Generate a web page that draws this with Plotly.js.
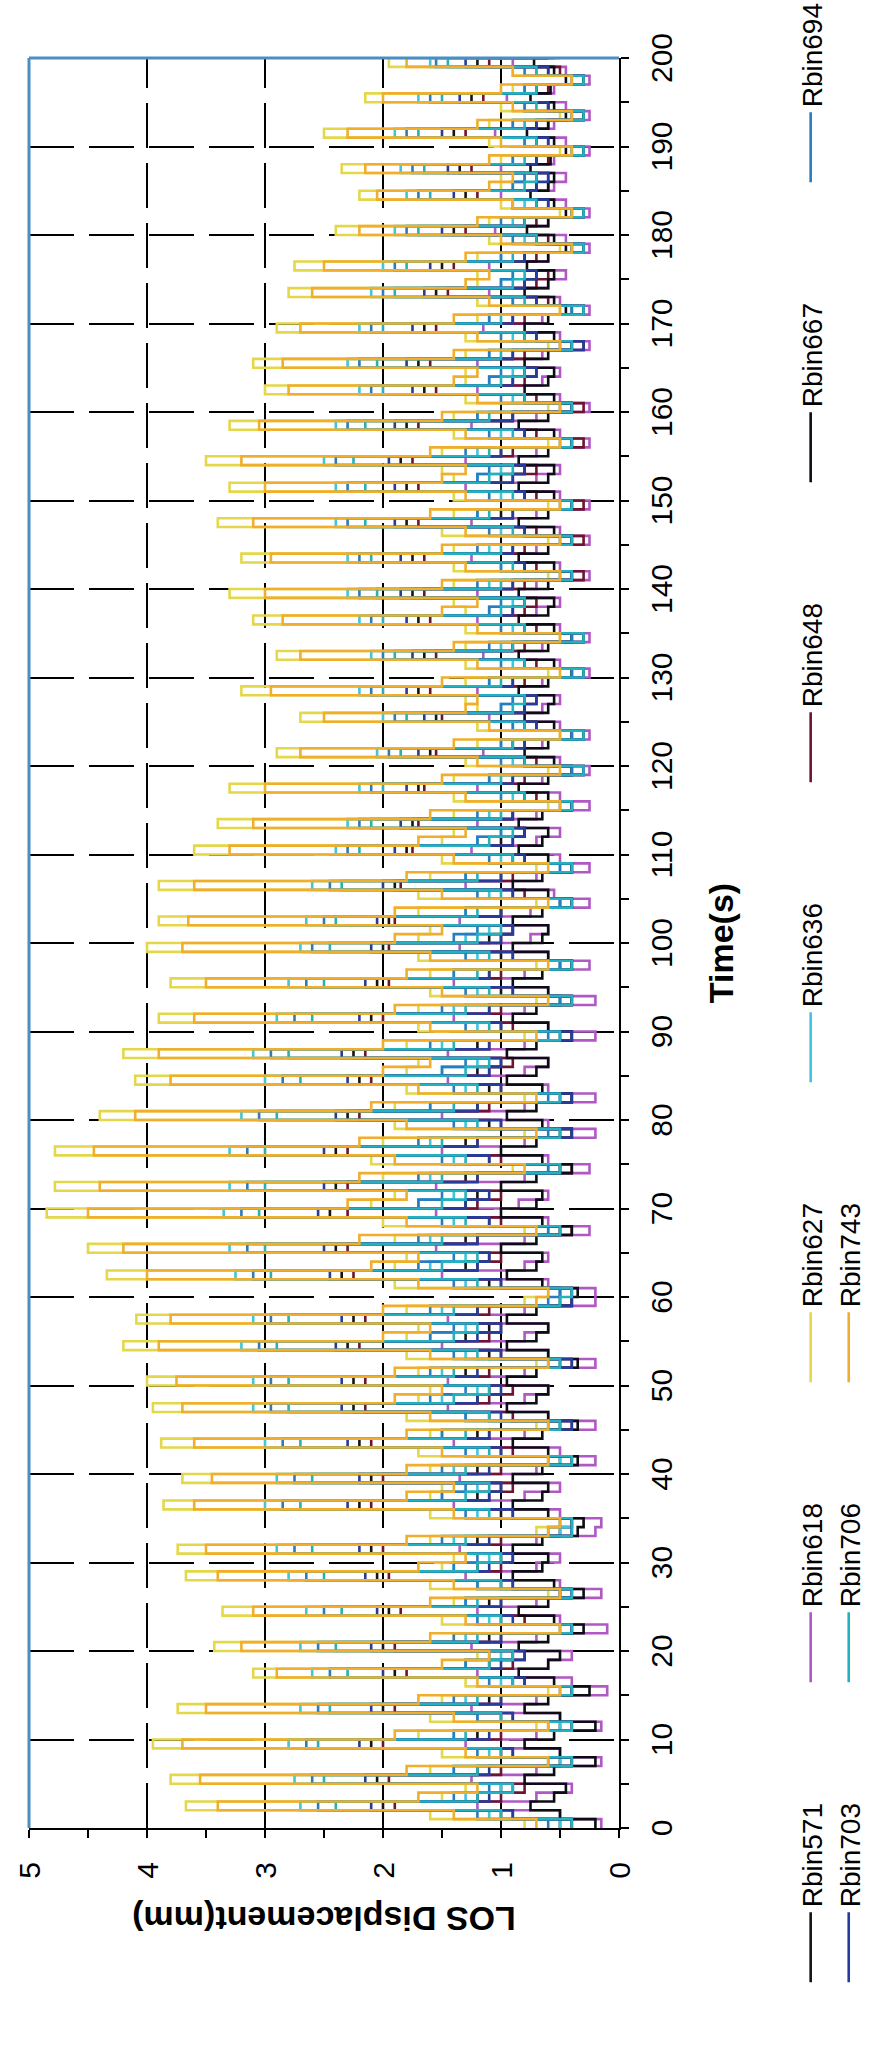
<!DOCTYPE html>
<html>
<head>
<meta charset="utf-8">
<script src="https://cdn.plot.ly/plotly-3.0.1.min.js"></script>
<style>
html,body{margin:0;padding:0;width:871px;height:2046px;overflow:hidden;background:#fff;}
#chart{position:absolute;left:0;top:0;width:2046px;height:900px;transform-origin:0 0;transform:translateY(2046px) rotate(-90deg);}
</style>
</head>
<body>
<div id="chart"></div>
<script>
// Time axis: samples every 1 s from 0 to 200 s (x0 = 0, dx = 1)
var seriesNames = ["Rbin571","Rbin618","Rbin627","Rbin636","Rbin648","Rbin667","Rbin694","Rbin703","Rbin706","Rbin743"];
var legendGroups = ["legend","legend","legend","legend","legend3","legend3","legend4","legend2","legend2","legend2"];

var rbin571 = [0.5,1.0,2.0,1.2,1.0,2.05,1.2,0.5,1.0,2.1,
1.2,0.5,1.0,2.0,1.1,0.4,0.9,1.9,1.1,0.9,
2.0,1.1,0.4,1.0,1.95,1.1,0.5,1.0,2.05,1.2,
1.0,2.1,1.2,0.5,0.4,1.0,2.2,1.2,1.0,2.1,
1.2,0.5,1.0,2.2,1.2,0.5,1.1,2.25,1.2,1.1,
2.25,1.3,0.5,1.1,2.3,1.3,1.1,2.25,1.2,0.5,
0.5,1.1,2.35,1.3,1.1,2.4,1.3,0.5,1.1,2.45,
1.3,1.2,2.4,1.3,0.5,1.1,2.4,1.3,0.5,1.1,
2.3,1.2,0.5,1.1,2.2,1.2,1.0,2.25,1.2,0.5,
1.0,2.1,1.1,0.5,1.0,2.05,1.1,0.5,1.0,2.0,
1.1,0.9,1.95,1.0,0.5,0.9,1.9,1.0,0.4,0.9,
1.8,1.0,0.8,1.75,0.9,0.4,0.8,1.7,0.9,0.4,
0.8,1.6,0.9,0.4,0.8,1.55,0.8,0.8,1.7,0.9,
0.4,0.8,1.65,0.9,0.4,0.8,1.7,0.9,0.8,1.75,
0.9,0.4,0.8,1.75,0.9,0.4,0.8,1.8,1.0,0.4,
0.8,1.8,1.0,0.8,1.85,1.0,0.4,0.8,1.8,0.9,
0.4,0.8,1.65,0.9,0.8,1.7,0.9,0.4,0.8,1.65,
0.9,0.4,0.7,1.55,0.8,0.7,1.5,0.8,0.4,0.7,
1.4,0.8,0.4,0.7,1.3,0.7,0.7,1.35,0.7,0.3,
0.7,1.4,0.7,0.3,0.6,1.25,0.7,0.3,0.6,1.2,
0.6];

var rbin618 = [0.15,0.5,1.2,0.7,0.4,1.25,0.7,0.15,0.5,1.3,
0.7,0.15,0.5,1.25,0.7,0.1,0.4,1.2,0.6,0.4,
1.25,0.7,0.1,0.5,1.2,0.7,0.15,0.5,1.3,0.7,
0.5,1.35,0.7,0.2,0.15,0.5,1.4,0.8,0.5,1.35,
0.7,0.2,0.5,1.4,0.8,0.2,0.6,1.45,0.8,0.6,
1.45,0.8,0.2,0.6,1.5,0.8,0.6,1.45,0.8,0.2,
0.2,0.6,1.5,0.8,0.6,1.55,0.8,0.25,0.6,1.55,
0.85,0.6,1.55,0.8,0.25,0.6,1.5,0.8,0.2,0.6,
1.5,0.8,0.2,0.6,1.45,0.8,0.6,1.45,0.8,0.2,
0.6,1.4,0.8,0.2,0.6,1.4,0.8,0.25,0.6,1.35,
0.75,0.6,1.35,0.75,0.25,0.55,1.3,0.7,0.25,0.5,
1.25,0.7,0.5,1.2,0.7,0.25,0.5,1.2,0.65,0.25,
0.5,1.15,0.65,0.25,0.5,1.1,0.65,0.5,1.2,0.65,
0.25,0.5,1.15,0.65,0.25,0.5,1.2,0.7,0.5,1.2,
0.7,0.25,0.5,1.25,0.7,0.25,0.5,1.25,0.7,0.25,
0.5,1.3,0.7,0.5,1.3,0.7,0.25,0.5,1.25,0.7,
0.25,0.5,1.2,0.65,0.5,1.2,0.65,0.25,0.5,1.15,
0.65,0.25,0.5,1.1,0.6,0.45,1.1,0.6,0.25,0.45,
1.05,0.6,0.25,0.45,1.0,0.55,0.45,1.0,0.55,0.25,
0.45,1.05,0.55,0.25,0.45,0.95,0.55,0.25,0.45,0.9,
0.5];

var rbin627 = [0.8,1.6,3.67,1.5,1.3,3.8,1.6,0.6,1.5,3.95,
1.7,0.7,1.6,3.74,1.5,0.6,1.3,3.1,1.3,1.2,
3.43,1.4,0.5,1.5,3.36,1.4,0.6,1.6,3.67,1.5,
1.4,3.74,1.6,0.7,0.5,1.6,3.86,1.6,1.5,3.7,
1.6,0.6,1.7,3.88,1.6,0.7,1.8,3.95,1.7,1.6,
4.0,1.7,0.7,1.8,4.2,1.8,1.7,4.09,1.8,0.8,
0.6,1.9,4.34,1.9,1.8,4.5,1.9,0.8,2.0,4.85,
2.1,1.9,4.78,2.0,0.9,2.1,4.78,2.0,0.8,1.9,
4.4,1.9,0.8,1.8,4.1,1.8,1.7,4.2,1.8,0.8,
1.7,3.9,1.7,0.7,1.6,3.8,1.6,0.7,1.7,4.0,
1.7,1.6,3.9,1.7,0.7,1.7,3.9,1.6,0.7,1.5,
3.6,1.5,1.4,3.4,1.4,0.6,1.4,3.3,1.4,0.6,
1.3,2.9,1.2,0.5,1.2,2.7,1.2,1.3,3.2,1.3,
0.6,1.3,2.9,1.3,0.5,1.3,3.1,1.3,1.4,3.3,
1.4,0.6,1.4,3.2,1.4,0.6,1.5,3.4,1.4,0.6,
1.4,3.3,1.4,1.5,3.5,1.5,0.6,1.4,3.3,1.4,
0.6,1.3,3.0,1.3,1.3,3.1,1.3,0.6,1.3,2.9,
1.2,0.5,1.2,2.8,1.2,1.2,2.75,1.2,0.5,1.1,
2.4,1.1,0.5,1.0,2.2,1.0,1.0,2.35,1.0,0.5,
1.1,2.5,1.1,0.5,1.0,2.15,0.9,0.4,0.9,1.95,
0.9];

var rbin636 = [0.5,1.1,2.7,1.3,1.0,2.75,1.4,0.5,1.1,2.8,
1.4,0.5,1.2,2.7,1.3,0.4,1.0,2.6,1.3,1.0,
2.7,1.3,0.4,1.1,2.65,1.3,0.4,1.2,2.8,1.4,
1.1,2.9,1.4,0.5,0.4,1.2,3.0,1.5,1.2,2.9,
1.4,0.5,1.2,3.0,1.5,0.5,1.3,3.1,1.5,1.2,
3.1,1.5,0.5,1.3,3.2,1.6,1.3,3.1,1.5,0.5,
0.5,1.3,3.25,1.6,1.3,3.3,1.6,0.6,1.4,3.35,
1.7,1.4,3.3,1.6,0.6,1.4,3.3,1.6,0.5,1.3,
3.2,1.6,0.5,1.3,3.0,1.5,1.2,3.1,1.5,0.5,
1.2,2.9,1.4,0.5,1.2,2.8,1.4,0.5,1.2,2.7,
1.3,1.1,2.65,1.3,0.5,1.1,2.6,1.3,0.5,1.0,
2.4,1.2,1.0,2.3,1.1,0.4,0.9,2.2,1.1,0.4,
0.9,2.05,1.0,0.4,0.9,2.0,1.0,0.9,2.2,1.1,
0.4,0.9,2.1,1.0,0.4,0.9,2.2,1.1,0.9,2.3,
1.1,0.4,1.0,2.3,1.1,0.4,1.0,2.4,1.2,0.4,
1.0,2.4,1.2,1.0,2.5,1.2,0.4,1.0,2.4,1.2,
0.4,0.9,2.2,1.1,0.9,2.3,1.1,0.4,0.9,2.2,
1.1,0.4,0.9,2.1,1.0,0.9,2.0,1.0,0.4,0.8,
1.9,0.9,0.4,0.8,1.8,0.9,0.8,1.85,0.9,0.4,
0.8,1.9,0.9,0.4,0.8,1.7,0.8,0.3,0.7,1.6,
0.8];

var rbin648 = [0.4,0.9,1.9,1.0,0.8,1.95,1.0,0.4,0.9,2.0,
1.0,0.4,0.9,1.9,1.0,0.4,0.8,1.8,0.9,0.8,
1.9,1.0,0.4,0.8,1.85,1.0,0.4,0.9,1.95,1.0,
0.9,2.0,1.0,0.4,0.4,0.9,2.1,1.1,0.9,2.0,
1.0,0.4,0.9,2.1,1.1,0.4,0.9,2.15,1.1,0.9,
2.15,1.1,0.4,1.0,2.2,1.1,1.0,2.15,1.1,0.4,
0.4,1.0,2.25,1.2,1.0,2.3,1.2,0.4,1.0,2.3,
1.2,1.0,2.3,1.2,0.4,1.0,2.3,1.2,0.4,1.0,
2.2,1.1,0.4,1.0,2.1,1.1,0.9,2.15,1.1,0.4,
0.9,2.0,1.0,0.4,0.9,1.95,1.0,0.4,0.9,1.95,
1.0,0.9,1.9,1.0,0.4,0.8,1.85,0.9,0.4,0.8,
1.75,0.9,0.8,1.7,0.9,0.4,0.7,1.65,0.8,0.3,
0.7,1.55,0.8,0.3,0.7,1.5,0.8,0.7,1.6,0.8,
0.3,0.7,1.55,0.8,0.3,0.7,1.6,0.8,0.7,1.65,
0.8,0.3,0.7,1.65,0.8,0.3,0.7,1.7,0.9,0.3,
0.7,1.7,0.9,0.7,1.75,0.9,0.3,0.7,1.7,0.9,
0.3,0.7,1.55,0.8,0.7,1.6,0.8,0.3,0.7,1.55,
0.8,0.3,0.6,1.45,0.7,0.6,1.4,0.7,0.3,0.6,
1.3,0.7,0.3,0.6,1.2,0.6,0.6,1.25,0.6,0.3,
0.6,1.3,0.6,0.3,0.6,1.15,0.6,0.3,0.5,1.1,
0.6];

var rbin667 = [0.2,0.5,0.75,0.55,0.45,0.8,0.55,0.2,0.5,0.8,
0.55,0.2,0.5,0.8,0.6,0.25,0.55,0.85,0.6,0.5,
0.85,0.6,0.3,0.55,0.85,0.6,0.3,0.55,0.9,0.65,
0.6,0.9,0.65,0.35,0.3,0.6,0.9,0.65,0.6,0.9,
0.65,0.35,0.6,0.9,0.65,0.35,0.6,0.95,0.7,0.6,
0.95,0.7,0.35,0.6,0.95,0.7,0.6,0.95,0.7,0.4,
0.35,0.65,0.95,0.7,0.65,1.0,0.7,0.4,0.65,1.0,
0.7,0.65,1.0,0.7,0.4,0.65,1.0,0.7,0.4,0.65,
0.95,0.7,0.4,0.65,0.95,0.7,0.6,0.95,0.7,0.4,
0.6,0.9,0.7,0.4,0.6,0.9,0.65,0.4,0.6,0.9,
0.65,0.6,0.9,0.65,0.4,0.6,0.9,0.65,0.4,0.6,
0.85,0.65,0.6,0.85,0.65,0.4,0.6,0.85,0.6,0.4,
0.55,0.8,0.6,0.4,0.55,0.8,0.6,0.55,0.85,0.6,
0.4,0.55,0.85,0.6,0.4,0.55,0.85,0.6,0.55,0.85,
0.6,0.4,0.55,0.85,0.6,0.4,0.55,0.85,0.6,0.4,
0.55,0.85,0.6,0.55,0.85,0.6,0.4,0.55,0.85,0.6,
0.4,0.55,0.8,0.6,0.55,0.8,0.6,0.4,0.55,0.8,
0.6,0.45,0.55,0.8,0.6,0.55,0.78,0.6,0.45,0.55,
0.78,0.6,0.45,0.55,0.75,0.6,0.55,0.75,0.58,0.45,
0.55,0.78,0.6,0.45,0.55,0.75,0.58,0.45,0.55,0.72,
0.55];

var rbin694 = [0.6,1.2,2.55,1.4,1.1,2.6,1.4,0.6,1.2,2.65,
1.4,0.6,1.2,2.55,1.4,0.5,1.1,2.45,1.3,1.1,
2.55,1.4,0.5,1.2,2.5,1.3,0.5,1.2,2.65,1.4,
1.2,2.75,1.5,0.6,0.5,1.3,2.85,1.5,1.3,2.75,
1.5,0.6,1.3,2.85,1.5,0.6,1.3,2.95,1.6,1.3,
2.95,1.6,0.6,1.4,3.05,1.6,1.4,2.95,1.6,0.6,
0.5,1.4,3.1,1.7,1.4,3.15,1.7,0.6,1.5,3.2,
1.7,1.5,3.15,1.7,0.6,1.5,3.15,1.7,0.6,1.4,
3.05,1.6,0.6,1.4,2.85,1.5,1.3,2.95,1.6,0.6,
1.3,2.75,1.5,0.5,1.3,2.65,1.4,0.5,1.3,2.6,
1.4,1.2,2.5,1.3,0.5,1.2,2.45,1.3,0.5,1.1,
2.3,1.2,1.0,2.2,1.2,0.5,1.0,2.1,1.1,0.4,
1.0,1.95,1.0,0.4,0.9,1.9,1.0,0.9,2.1,1.1,
0.4,1.0,2.0,1.1,0.4,1.0,2.1,1.1,1.0,2.2,
1.2,0.5,1.0,2.2,1.2,0.5,1.1,2.3,1.2,0.5,
1.1,2.3,1.2,1.1,2.4,1.3,0.5,1.1,2.3,1.2,
0.5,1.0,2.1,1.1,1.0,2.2,1.1,0.5,1.0,2.1,
1.1,0.4,0.9,2.0,1.0,0.9,1.9,1.0,0.4,0.9,
1.8,1.0,0.4,0.9,1.7,0.9,0.8,1.75,0.9,0.4,
0.8,1.8,0.9,0.4,0.8,1.6,0.8,0.4,0.8,1.55,
0.8];

var rbin703 = [0.4,0.9,2.1,1.1,0.9,2.15,1.1,0.4,0.9,2.2,
1.1,0.4,0.9,2.1,1.0,0.4,0.8,2.0,1.0,0.8,
2.1,1.0,0.4,0.9,2.05,1.0,0.4,0.9,2.15,1.1,
0.9,2.2,1.1,0.4,0.4,0.9,2.3,1.1,1.0,2.2,
1.1,0.4,1.0,2.3,1.1,0.4,1.0,2.35,1.2,1.0,
2.35,1.2,0.4,1.0,2.4,1.2,1.0,2.35,1.2,0.4,
0.4,1.0,2.45,1.2,1.1,2.5,1.2,0.5,1.1,2.55,
1.3,1.1,2.5,1.2,0.5,1.1,2.5,1.2,0.4,1.0,
2.4,1.2,0.4,1.0,2.3,1.1,1.0,2.35,1.1,0.4,
1.0,2.2,1.1,0.4,0.9,2.15,1.1,0.4,0.9,2.1,
1.0,0.9,2.05,1.0,0.4,0.9,2.0,1.0,0.4,0.8,
1.9,0.9,0.8,1.85,0.9,0.4,0.8,1.8,0.9,0.3,
0.8,1.7,0.8,0.3,0.7,1.65,0.8,0.7,1.8,0.9,
0.3,0.8,1.75,0.9,0.3,0.8,1.8,0.9,0.8,1.85,
0.9,0.4,0.8,1.85,0.9,0.4,0.8,1.9,0.9,0.4,
0.8,1.9,0.9,0.8,1.95,1.0,0.4,0.8,1.9,0.9,
0.4,0.8,1.75,0.9,0.7,1.8,0.9,0.3,0.7,1.75,
0.9,0.3,0.7,1.65,0.8,0.7,1.6,0.8,0.3,0.7,
1.5,0.8,0.3,0.6,1.4,0.7,0.6,1.45,0.7,0.3,
0.6,1.5,0.7,0.3,0.6,1.35,0.7,0.3,0.6,1.3,
0.6];

var rbin706 = [0.4,1.0,2.4,1.2,0.9,2.5,1.2,0.4,1.0,2.55,
1.3,0.4,1.0,2.45,1.2,0.4,0.9,2.3,1.1,0.9,
2.4,1.2,0.4,1.0,2.35,1.2,0.4,1.0,2.5,1.2,
1.0,2.6,1.3,0.4,0.4,1.1,2.7,1.3,1.1,2.6,
1.3,0.4,1.1,2.7,1.3,0.5,1.1,2.8,1.4,1.1,
2.8,1.4,0.5,1.2,2.9,1.4,1.2,2.8,1.4,0.5,
0.4,1.2,2.95,1.5,1.2,3.0,1.5,0.5,1.3,3.05,
1.5,1.3,3.0,1.5,0.5,1.3,3.0,1.5,0.5,1.2,
2.9,1.4,0.5,1.2,2.7,1.3,1.1,2.8,1.4,0.5,
1.1,2.6,1.3,0.4,1.1,2.5,1.2,0.4,1.1,2.45,
1.2,1.0,2.4,1.2,0.4,1.0,2.35,1.2,0.4,0.9,
2.2,1.1,0.9,2.1,1.0,0.4,0.8,2.0,1.0,0.3,
0.8,1.85,0.9,0.3,0.8,1.8,0.9,0.8,2.0,1.0,
0.3,0.8,1.9,0.9,0.3,0.8,2.0,1.0,0.8,2.05,
1.0,0.4,0.9,2.1,1.0,0.4,0.9,2.15,1.1,0.4,
0.9,2.15,1.1,0.9,2.25,1.1,0.4,0.9,2.15,1.1,
0.4,0.8,2.0,1.0,0.8,2.05,1.0,0.4,0.8,2.0,
1.0,0.3,0.8,1.9,0.9,0.8,1.8,0.9,0.3,0.7,
1.7,0.8,0.3,0.7,1.6,0.8,0.7,1.65,0.8,0.3,
0.7,1.7,0.8,0.3,0.7,1.5,0.7,0.3,0.7,1.45,
0.7];

var rbin743 = [0.7,1.4,3.4,1.7,1.2,3.55,1.8,0.6,1.3,3.7,
1.9,0.6,1.4,3.5,1.7,0.5,1.2,2.9,1.5,1.1,
3.2,1.6,0.5,1.3,3.1,1.6,0.5,1.4,3.4,1.7,
1.3,3.5,1.8,0.6,0.5,1.4,3.6,1.8,1.4,3.45,
1.8,0.6,1.5,3.6,1.8,0.6,1.6,3.7,1.9,1.5,
3.75,1.9,0.6,1.6,3.9,2.0,1.6,3.8,2.0,0.7,
0.6,1.7,4.0,2.1,1.7,4.2,2.2,0.7,1.8,4.5,
2.3,1.8,4.4,2.2,0.8,1.9,4.45,2.2,0.7,1.8,
4.1,2.1,0.7,1.7,3.8,2.0,1.6,3.9,2.0,0.7,
1.6,3.6,1.9,0.6,1.5,3.5,1.8,0.6,1.6,3.7,
1.9,1.5,3.65,1.9,0.6,1.5,3.6,1.8,0.6,1.4,
3.3,1.7,1.3,3.1,1.6,0.5,1.3,3.0,1.5,0.5,
1.2,2.7,1.4,0.5,1.1,2.5,1.3,1.2,2.95,1.5,
0.5,1.2,2.7,1.4,0.5,1.2,2.85,1.5,1.2,3.0,
1.5,0.5,1.3,2.95,1.5,0.5,1.3,3.1,1.6,0.5,
1.3,3.0,1.5,1.3,3.2,1.6,0.5,1.3,3.05,1.5,
0.5,1.2,2.8,1.4,1.2,2.85,1.4,0.5,1.2,2.7,
1.4,0.5,1.1,2.6,1.3,1.1,2.5,1.3,0.4,1.0,
2.2,1.2,0.4,0.9,2.05,1.1,0.9,2.15,1.1,0.4,
1.0,2.3,1.2,0.4,0.9,2.0,1.0,0.4,0.9,1.8,
0.9];

var seriesValues = [rbin571, rbin618, rbin627, rbin636, rbin648, rbin667, rbin694, rbin703, rbin706, rbin743];
var seriesColors = ["#141414","#b058c4","#e4d84a","#3ec6e0","#6e1430","#0c0c14","#2a7cc0","#243c9c","#24b0bc","#f0ae2c"];

var traces = seriesNames.map(function(name, i){
  return {
    type: 'scatter', mode: 'lines', name: name, legend: legendGroups[i],
    x0: 0, dx: 1, y: seriesValues[i],
    line: {color: seriesColors[i], width: 2.6, shape: 'hv'}
  };
});

var fam = 'Liberation Sans, Arial, sans-serif';
var tickFont = {family: fam, size: 30, color: '#000'};
var titleFont = {family: fam, size: 34, color: '#000', weight: 'bold'};
var legendFont = {family: fam, size: 28, color: '#000'};

function legendBox(xp, yp, fixedWidth) {
  var lg = {
    orientation: 'h', x: xp, xanchor: 'left', y: yp, yanchor: 'top',
    font: legendFont, itemwidth: 70,
    bgcolor: 'rgba(0,0,0,0)', traceorder: 'normal'
  };
  if (fixedWidth) { lg.entrywidth = 215; lg.entrywidthmode = 'pixels'; }
  return lg;
}

var row1 = -0.283, row2 = -0.3475, col0 = -0.090, colStep = 300 / 1770;

var layout = {
  width: 2046, height: 900,
  margin: {l: 218, r: 58, t: 29, b: 281, autoexpand: false},
  paper_bgcolor: '#fff', plot_bgcolor: '#fff',
  font: {family: fam, size: 30, color: '#000'},
  showlegend: true,
  xaxis: {
    range: [0, 200], tick0: 0, dtick: 10, tickfont: tickFont,
    ticks: 'outside', ticklen: 8, tickwidth: 2, tickcolor: '#000', ticklabelstandoff: 7,
    minor: {dtick: 5, ticks: 'outside', ticklen: 8, tickwidth: 2, tickcolor: '#000', showgrid: false},
    showline: true, linecolor: '#000', linewidth: 2,
    showgrid: true, gridcolor: '#000', gridwidth: 2, griddash: '45px,15px',
    zeroline: false, automargin: true,
    title: {text: 'Time(s)', font: titleFont, standoff: 32}
  },
  yaxis: {
    range: [0, 5], tick0: 0, dtick: 1, tickfont: tickFont,
    ticks: 'outside', ticklen: 8, tickwidth: 2, tickcolor: '#000', ticklabelstandoff: 18,
    minor: {dtick: 0.5, ticks: 'outside', ticklen: 8, tickwidth: 2, tickcolor: '#000', showgrid: false},
    showline: true, linecolor: '#000', linewidth: 2,
    showgrid: true, gridcolor: '#000', gridwidth: 2, griddash: '45px,15px',
    zeroline: false, automargin: false,
    title: {text: 'LOS Displacement(mm)', font: titleFont}
  },
  legend: legendBox(col0, row1, true),
  legend3: legendBox(col0 + 4 * colStep, row1, true),
  legend4: legendBox(col0 + 6 * colStep, row1, false),
  legend2: legendBox(col0, row2, true),
  shapes: [
    {type: 'line', xref: 'paper', yref: 'paper', x0: 0, x1: 1, y0: 1, y1: 1, layer: 'above', line: {color: '#4a8fbf', width: 3}},
    {type: 'line', xref: 'paper', yref: 'paper', x0: 1, x1: 1, y0: 0, y1: 1, layer: 'above', line: {color: '#4a8fbf', width: 3}}
  ]
};

Plotly.newPlot('chart', traces, layout, {displayModeBar: false, staticPlot: true});
</script>
</body>
</html>
